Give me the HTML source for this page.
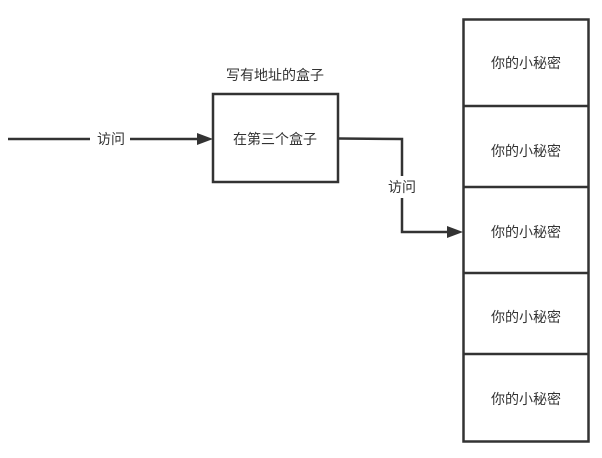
<!DOCTYPE html>
<html><head><meta charset="utf-8"><style>
body{margin:0;background:#fff;width:602px;height:453px;overflow:hidden}
svg text{font-family:"Liberation Sans","Noto Sans CJK SC",sans-serif;font-size:14px;fill:#333}
</style></head><body>
<svg width="602" height="453" xmlns="http://www.w3.org/2000/svg">
<g stroke="#333" stroke-width="2.5" fill="none">
<line x1="8" y1="139" x2="200" y2="139"/>
<rect x="213" y="94" width="125" height="88" fill="#fff"/>
<polyline points="339,138.5 402,139 402,232 451,232"/>
<rect x="463.5" y="19.5" width="125" height="422"/>
<line x1="463" y1="106" x2="589" y2="106"/>
<line x1="463" y1="187" x2="589" y2="187"/>
<line x1="463" y1="273" x2="589" y2="273"/>
<line x1="463" y1="354" x2="589" y2="354"/>
</g>
<polygon points="213,139 197,133 197,145" fill="#333"/>
<polygon points="463,232 447,226 447,238" fill="#333"/>
<rect x="90" y="130" width="40" height="18" fill="#fff"/>
<text x="111" y="144" text-anchor="middle">访问</text>
<rect x="385" y="176" width="36" height="22" fill="#fff"/>
<text x="402" y="192" text-anchor="middle">访问</text>
<text x="275" y="80" text-anchor="middle">写有地址的盒子</text>
<text x="275" y="144" text-anchor="middle">在第三个盒子</text>
<g text-anchor="middle">
<text x="526" y="68">你的小秘密</text>
<text x="526" y="156">你的小秘密</text>
<text x="526" y="237">你的小秘密</text>
<text x="526" y="322">你的小秘密</text>
<text x="526" y="404">你的小秘密</text>
</g>
</svg>
</body></html>
